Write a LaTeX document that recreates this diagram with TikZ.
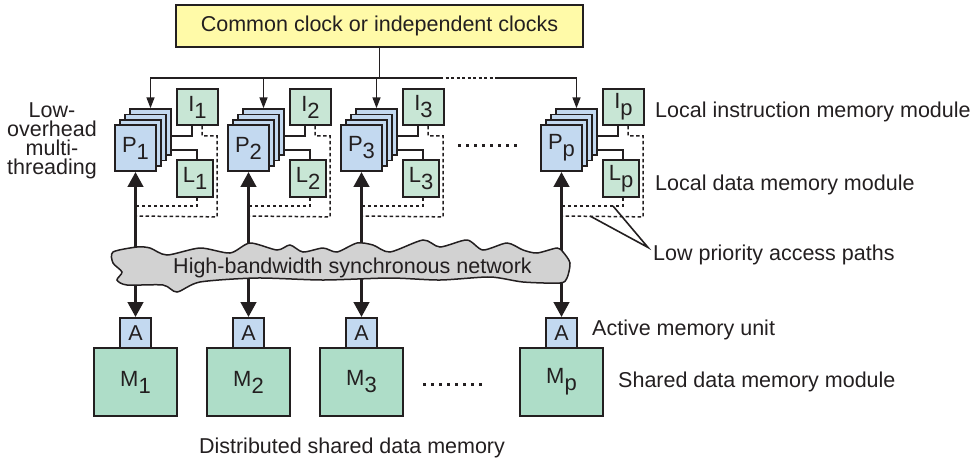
\documentclass[tikz,border=0pt]{standalone}
\usepackage{fontspec}
\setmainfont{Liberation Sans}
\usetikzlibrary{arrows.meta,calc}
\definecolor{pblue}{RGB}{195,217,240}
\definecolor{lgreen}{RGB}{200,230,213}
\definecolor{mgreen}{RGB}{174,221,200}
\definecolor{cyel}{RGB}{255,250,168}
\definecolor{ngray}{RGB}{210,210,210}
\definecolor{ink}{RGB}{35,31,32}
\newcommand\sbs[1]{\raisebox{-7pt}{#1}}
\tikzset{
  bx/.style={draw=ink, line width=1.7pt, inner sep=0pt, font=\fontsize{22}{23}\selectfont},
  pbx/.style={bx, fill=pblue},
  gbx/.style={bx, fill=lgreen},
  mbx/.style={bx, fill=mgreen},
  thn/.style={draw=ink, line width=1.6pt},
  dsh/.style={draw=ink, line width=1.5pt, dash pattern=on 3.5pt off 2.5pt},
  thk/.style={draw=ink, line width=3.8pt, -{Triangle[width=15pt,length=15pt]}},
  clka/.style={draw=ink, line width=1.6pt, -{Triangle[width=8pt,length=11pt]}},
  dotl/.style={draw=ink, line width=1.6pt, dash pattern=on 3pt off 2.5pt},
  bigdots/.style={draw=ink, line width=3pt, dash pattern=on 3pt off 5pt},
  lbl/.style={anchor=base west, inner sep=0pt}
}
\newcommand\pcolumn[3]{%
\begin{scope}[xshift=#2pt]
  \foreach \k in {3,2,1}
    \node[pbx, minimum width=41pt, minimum height=46pt] (P#1b\k) at (20.5+5*\k,148-5.3*\k) {};
  \node[pbx, minimum width=41pt, minimum height=46pt] (P#1) at (20.5,148) {P\sbs{#3}};
  \node[gbx, minimum width=41pt, minimum height=36pt] (I#1) at (82.5,107) {I\sbs{#3}};
  \node[gbx, minimum width=36pt, minimum height=37pt] (L#1) at (80,178.5) {L\sbs{#3}};
  \node[pbx, minimum width=31pt, minimum height=30pt, font=\fontsize{21.5}{22}\selectfont] (A#1) at (20.5,333) {A};
  \node[mbx, minimum width=83pt, minimum height=68pt] (M#1) at (20.5,382) {M\sbs{#3}};
  \draw[thn] ($(P#1b3.east)+(0,3.9)$) -| ($(I#1.south)+(-5.5,0)$);
  \draw[thn] ($(P#1b3.east)+(0,17.9)$) -| ($(L#1.north)+(2,0)$);
  \draw[dsh] ($(I#1.south)+(4.5,0)$) -- ++(0,10) -| ($(I#1.south)+(19.5,91)$) -- (P#1.south |- 0,216);
  \draw[dsh] ($(L#1.south)+(2,0)$) |- (P#1.south |- 0,206);
  \draw[thk] (P#1.south |- 0,262) -- (P#1.south);
  \draw[thk] (A#1.north |- 0,272) -- (A#1.north);
\end{scope}}
\begin{document}
\begin{tikzpicture}[x=1pt,y=-1pt, every node/.style={font=\fontsize{21.5}{22}\selectfont, text=ink}]
\useasboundingbox (0,0) rectangle (977,459);
\node[bx, fill=cyel, minimum width=407pt, minimum height=42pt, font=\fontsize{21.5}{22}\selectfont] (clk) at (379.5,26) {Common clock or independent clocks};

\pcolumn{1}{115}{1}
\pcolumn{2}{228}{2}
\pcolumn{3}{341}{3}
\pcolumn{p}{541}{p}

% clock distribution
\coordinate (cd1) at (440,78);
\coordinate (cd2) at (497,78);
\draw[thn] (clk.south) -- (clk.south |- cd1);
\draw[clka] (cd1) -- (P1b3.north |- cd1) -- (P1b3.north);
\draw[clka] (P2b3.north |- cd1) -- (P2b3.north);
\draw[clka] (P3b3.north |- cd1) -- (P3b3.north);
\draw[clka] (cd2) -- (Ppb3.north |- cd2) -- (Ppb3.north);
\draw[dotl] (cd1) -- (cd2);

% ellipsis dots
\draw[bigdots] (458,145) -- (520,145);
\draw[bigdots] (423,384) -- (484,384);

% network cloud
\draw[ink, line width=1.5pt, fill=ngray] plot[smooth cycle, tension=0.45] coordinates {
 (113,252) (137,247) (150,248) (167,255) (200,248) (230,253) (250,243) (277,250)
 (290,245) (303,252) (323,248) (337,252) (357,243) (373,245) (390,252) (423,240)
 (440,247) (467,240) (483,250) (507,243) (523,250) (537,253) (557,248) (563,252)
 (570,263) (567,278) (560,283) (523,282) (490,277) (440,280) (390,278) (323,280)
 (257,278) (200,282) (177,292) (163,285) (127,285) (117,280) (122,272) (113,263)};
\node[anchor=base, inner sep=0pt] (net) at (352.5,273) {High-bandwidth synchronous network};

% left label
\node[anchor=north, align=center, inner sep=0pt, font=\fontsize{21.5}{19}\selectfont] (mt) at (52,102.5) {Low-\\overhead\\multi-\\threading};

% right labels
\node[lbl] (lim) at (655,117) {Local instruction memory module};
\node[lbl] (ldm) at (655,190) {Local data memory module};
\node[lbl] (lp) at (653,260) {Low priority access paths};
\node[lbl] (amu) at (592,335) {Active memory unit};
\node[lbl] (sdm) at (618,387) {Shared data memory module};
\node[anchor=base, inner sep=0pt] (dsm) at (352,453) {Distributed shared data memory};

% low priority pointers
\coordinate (lpa) at (613,206);
\coordinate (lpb) at (590,216);
\coordinate (lpc) at ($(lp.west)+(-5,-7)$);
\draw[thn] (lpb) -- (lpc) -- (lpa);
\end{tikzpicture}
\end{document}
